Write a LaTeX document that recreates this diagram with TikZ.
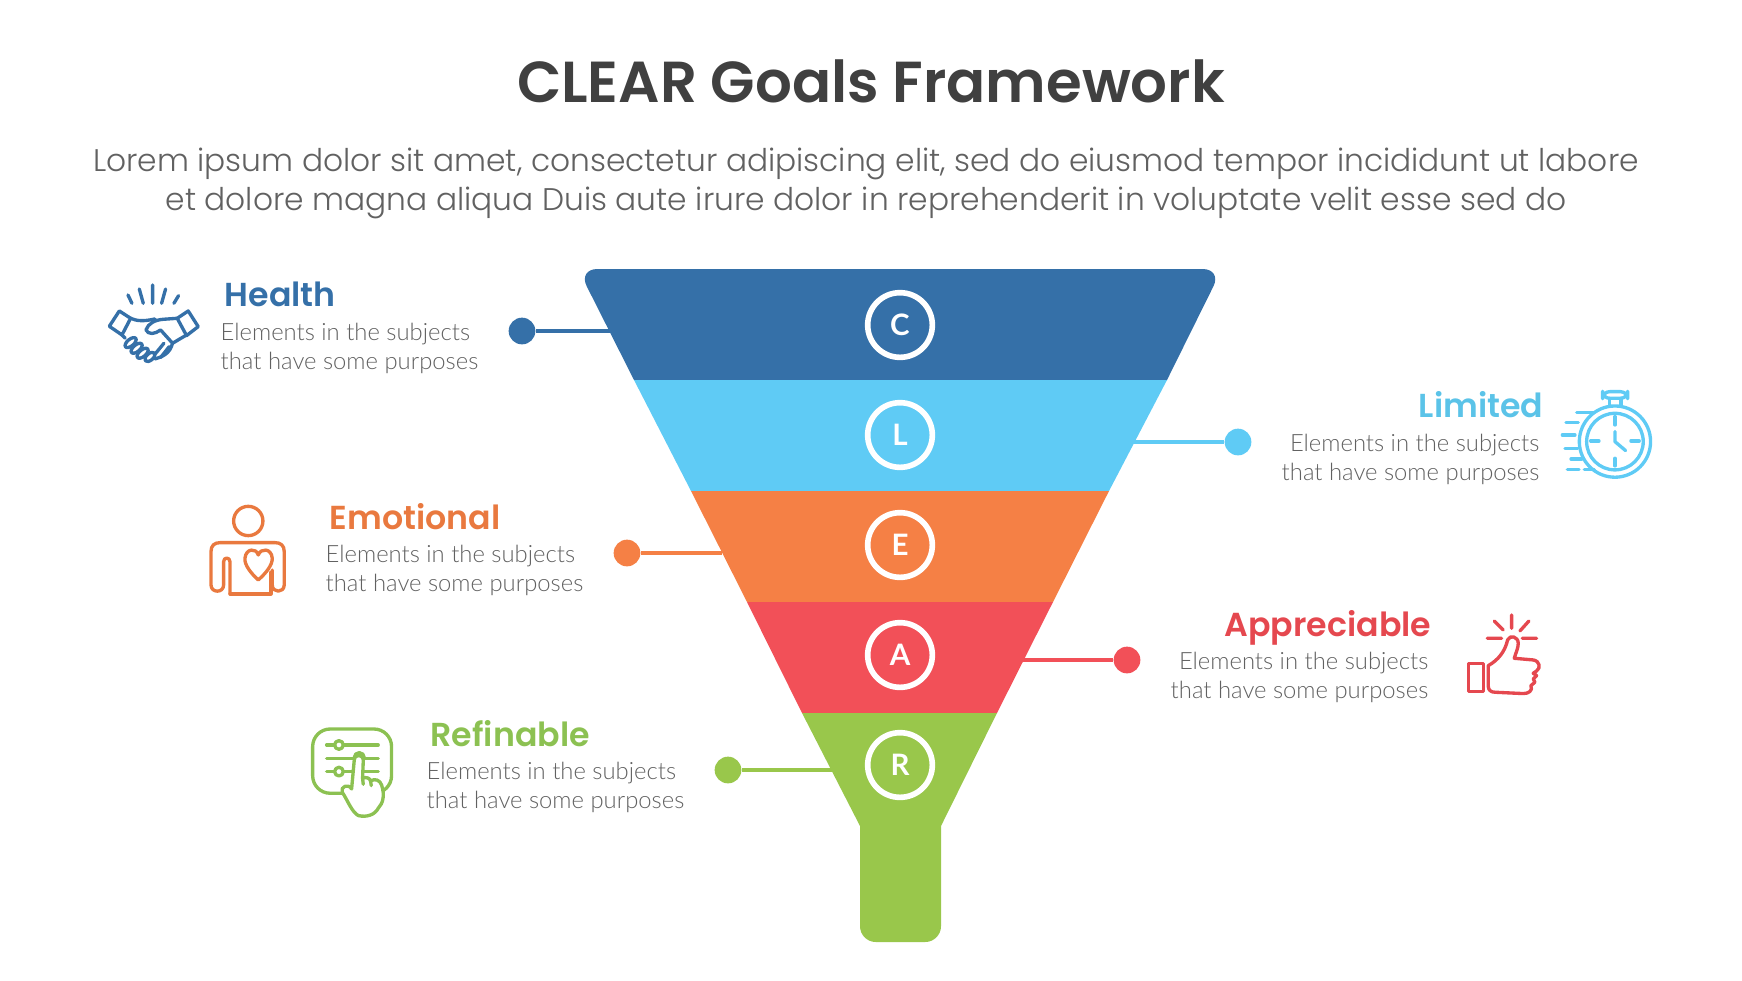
\documentclass[tikz,border=0pt]{standalone}
\usepackage{fontspec}
\setmainfont[UprightFont=* Light,BoldFont=*-Bold]{Lato}
\newfontfamily\popfont[UprightFont=* Light,BoldFont=* SemiBold]{Poppins}
\usetikzlibrary{positioning}

\definecolor{bandC}{HTML}{3570A8}
\definecolor{bandL}{HTML}{5FCBF5}
\definecolor{bandE}{HTML}{F58045}
\definecolor{bandA}{HTML}{F25058}
\definecolor{bandR}{HTML}{99C74B}
\definecolor{iconL}{HTML}{5BC3E8}
\definecolor{iconE}{HTML}{E9793F}
\definecolor{iconA}{HTML}{E5484F}
\definecolor{iconR}{HTML}{8CC152}

\tikzset{
	every node/.style={inner sep=0},
	letter/.style={circle,draw=white,line width=1.6pt,minimum size=18.4pt,text=white,font=\fontsize{8.4}{10}\selectfont\bfseries},
	dot/.style={circle,minimum size=7.6pt},
	head/.style={font=\popfont\fontsize{9.45}{12}\selectfont\bfseries},
	body/.style={text=black!62,font=\fontsize{6.78}{8.5}\selectfont},
	icon/.style={line width=0.95pt,line cap=round,line join=round},
	link/.style={line width=0.95pt}
}

\begin{document}
\begin{tikzpicture}[x=0.1mm,y=-0.1mm]
	\useasboundingbox (0,0) rectangle (1742,980);

	% title
	\node[anchor=base,text=black!75,font=\popfont\fontsize{16.45}{20}\selectfont\bfseries] (title) at (871,102) {CLEAR Goals Framework};
	\node[anchor=base,text=black!62,font=\popfont\fontsize{8.9}{11}\selectfont,align=center] (sub) at (866,210) {Lorem ipsum dolor sit amet, consectetur adipiscing elit, sed do eiusmod tempor incididunt ut labore\\et dolore magna aliqua Duis aute irure dolor in reprehenderit in voluptate velit esse sed do};

	% connectors go under the funnel
	\coordinate (edgeC) at (612,336);
	\coordinate (edgeL) at (1131,447);
	\coordinate (edgeE) at (722,552);
	\coordinate (edgeA) at (1023,660);
	\coordinate (edgeR) at (833,770);
	\node[dot,fill=bandC] (dotC) at (522,331) {};
	\node[dot,fill=bandL] (dotL) at (1238,442) {};
	\node[dot,fill=bandE] (dotE) at (627,553) {};
	\node[dot,fill=bandA] (dotA) at (1127,660) {};
	\node[dot,fill=bandR] (dotR) at (728,770) {};
	\draw[link,bandC] (dotC) -- (dotC-|edgeC);
	\draw[link,bandL] (dotL) -- (dotL-|edgeL);
	\draw[link,bandE] (dotE) -- (dotE-|edgeE);
	\draw[link,bandA] (dotA) -- (dotA-|edgeA);
	\draw[link,bandR] (dotR) -- (dotR-|edgeR);

	% funnel
	\fill[bandC,rounded corners=5.5pt] (634,380) -- (578,269) -- (1222,269) [sharp corners] -- (1167,380) -- cycle;
	\fill[bandL] (634,380) -- (1167,380) -- (1109,491) -- (691,491) -- cycle;
	\fill[bandE] (691,491) -- (1109,491) -- (1053,602) -- (747,602) -- cycle;
	\fill[bandA] (747,602) -- (1053,602) -- (997,713) -- (802,713) -- cycle;
	\fill[bandR] (802,713) -- (997,713) -- (941,826) [rounded corners=4.5pt] -- (941,942) -- (860,942) [sharp corners] -- (860,826) -- cycle;

	\node[letter] (C) at (900,325) {C};
	\node[letter] (L) at (900,435) {L};
	\node[letter] (E) at (900,545) {E};
	\node[letter] (A) at (900,655) {A};
	\node[letter] (R) at (900,765) {R};

	% labels
	\node[head,anchor=base west,text=bandC] (tC) at (224,306) {Health};
	\node[body,anchor=north west,align=left] (bC) at (220,322) {Elements in the subjects\\that have some purposes};
	\node[head,anchor=base east,text=iconL] (tL) at (1544,417) {Limited};
	\node[body,anchor=north east,align=right] (bL) at (1540,433) {Elements in the subjects\\that have some purposes};
	\node[head,anchor=base west,text=iconE] (tE) at (329,529) {Emotional};
	\node[body,anchor=north west,align=left] (bE) at (325,544) {Elements in the subjects\\that have some purposes};
	\node[head,anchor=base east,text=iconA] (tA) at (1432,636) {Appreciable};
	\node[body,anchor=north east,align=right] (bA) at (1429,651) {Elements in the subjects\\that have some purposes};
	\node[head,anchor=base west,text=iconR] (tR) at (430,746) {Refinable};
	\node[body,anchor=north west,align=left] (bR) at (426,761) {Elements in the subjects\\that have some purposes};

	% handshake
	\begin{scope}[shift={(100,275)},x=0.0333mm,y=-0.0333mm,icon,bandC]
		\draw (158,30) -- (158,85) (118,42) -- (130,85) (197,42) -- (185,85) (84,60) -- (96,85) (236,62) -- (222,85);
		\draw (58,108) -- (92,130) -- (66,180) -- (28,154) -- cycle;
		\draw (265,108) -- (232,130) -- (260,182) -- (295,155) -- cycle;
		\draw (92,130) .. controls (110,138) and (130,140) .. (165,132);
		\draw (232,130) -- (190,133) .. controls (165,135) and (145,145) .. (138,165) .. controls (145,180) and (165,178) .. (182,165) -- (218,205);
		\draw (260,180) -- (218,205) .. controls (210,235) and (190,245) .. (165,252);
		\draw (192,205) -- (165,238) (208,215) -- (182,248);
		\draw[rotate around={40:(92,203)}] (92,203) ellipse (20 and 10);
		\draw[rotate around={40:(110,220)}] (110,220) ellipse (20 and 10);
		\draw[rotate around={40:(128,235)}] (128,235) ellipse (20 and 10);
		\draw[rotate around={40:(150,246)}] (150,246) ellipse (18 and 10);
		\draw (66,180) -- (76,190);
	\end{scope}

	% person with heart
	\begin{scope}[shift={(201,495)},x=0.0333mm,y=-0.0333mm,icon,iconE]
		\draw (142,78) circle (44);
		\draw (87,297) -- (87,200) .. controls (87,186) and (68,186) .. (68,200) -- (68,270) .. controls (68,295) and (30,295) .. (30,270) -- (30,170) .. controls (30,152) and (40,143) .. (58,143) -- (222,143) .. controls (240,143) and (250,152) .. (250,170) -- (250,270) .. controls (250,295) and (214,295) .. (214,270) -- (214,225);
		\draw (87,297) -- (210,297) -- (210,232);
		\draw (172,255) .. controls (150,235) and (130,210) .. (132,190) .. controls (135,160) and (165,158) .. (172,180) .. controls (180,158) and (212,160) .. (214,190) .. controls (215,210) and (195,235) .. (172,255) -- cycle;
	\end{scope}

	% stopwatch
	\begin{scope}[shift={(1555,380)},x=0.0333mm,y=-0.0333mm,icon,bandL]
		\draw (180,185) circle (107);
		\draw (180,185) circle (85);
		\draw[rounded corners=2pt] (143,35) rectangle (218,55);
		\draw (163,55) -- (163,75) (198,55) -- (198,75);
		\draw (180,110) -- (180,135) (180,235) -- (180,258) (107,183) -- (132,183) (228,183) -- (253,183);
		\draw (180,155) -- (180,185) -- (212,212);
		\draw (65,97) -- (118,97) (33,127) -- (70,127) (22,165) -- (60,165) (30,205) -- (68,205) (48,237) -- (80,237) (37,268) -- (72,268) (88,268) -- (118,268);
	\end{scope}

	% thumb up
	\begin{scope}[shift={(1455,605)},x=0.0333mm,y=-0.0333mm,icon,iconA]
		\draw (170,30) -- (170,70) (118,48) -- (145,75) (222,48) -- (195,78) (97,100) -- (140,100) (202,100) -- (245,100);
		\draw (40,175) rectangle (85,260);
		\draw (100,182) .. controls (130,165) and (150,140) .. (158,105) .. controls (165,88) and (190,95) .. (190,115) .. controls (190,130) and (182,145) .. (178,160) -- (235,165) .. controls (255,168) and (258,190) .. (245,198) -- (235,205) -- (245,212) -- (235,222) -- (240,232) -- (228,242) .. controls (235,258) and (220,266) .. (205,266) -- (120,262) .. controls (108,262) and (100,255) .. (100,245) -- cycle;
	\end{scope}

	% slider panel and hand
	\begin{scope}[shift={(300,715)},x=0.0333mm,y=-0.0333mm,icon,iconR]
		\draw[rounded corners=5pt] (38,42) rectangle (275,235);
		\draw (80,90) -- (235,90) (80,130) -- (235,130) (80,170) -- (235,170);
		\draw[fill=white] (117,90) circle (13);
		\draw[fill=white] (117,170) circle (13);
		\draw[fill=white] (178,128) circle (15);
		\draw[fill=white] (155,222) -- (163,135) .. controls (165,115) and (192,118) .. (190,138) -- (188,190) .. controls (200,185) and (210,190) .. (212,198) .. controls (225,190) and (240,195) .. (245,210) .. controls (255,240) and (250,265) .. (235,280) .. controls (225,300) and (200,308) .. (175,302) .. controls (155,290) and (145,260) .. (127,232) .. controls (120,215) and (145,205) .. (155,222) -- cycle;
		\draw (212,198) -- (214,212) (188,190) -- (190,208);
	\end{scope}
\end{tikzpicture}
\end{document}
